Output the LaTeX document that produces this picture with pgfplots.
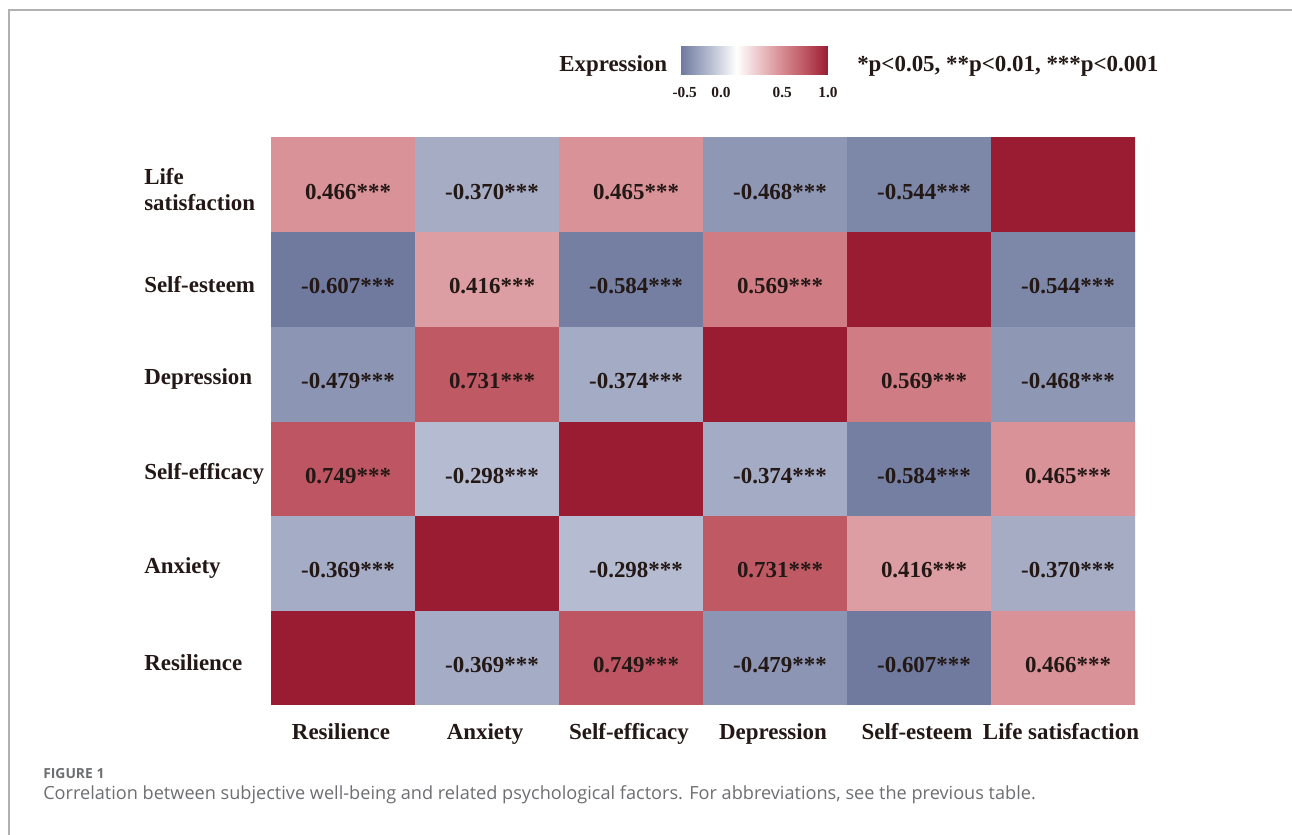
\documentclass[border=0pt]{standalone}
\usepackage{fontspec}
\setmainfont{Liberation Serif}
\newfontfamily\capfont{Open Sans}
\usepackage{pgfplots}
\usepackage{pgfplotstable}
\pgfplotsset{compat=1.18}
\definecolor{txt}{HTML}{231815}
\definecolor{capgray}{HTML}{6D6E71}
\definecolor{framegray}{HTML}{B0B0B0}

\pgfplotstableread{
x y v lab
0 0 1.000 {}
1 0 -0.369 -0.369***
2 0 0.749 0.749***
3 0 -0.479 -0.479***
4 0 -0.607 -0.607***
5 0 0.466 0.466***
0 1 -0.369 -0.369***
1 1 1.000 {}
2 1 -0.298 -0.298***
3 1 0.731 0.731***
4 1 0.416 0.416***
5 1 -0.370 -0.370***
0 2 0.749 0.749***
1 2 -0.298 -0.298***
2 2 1.000 {}
3 2 -0.374 -0.374***
4 2 -0.584 -0.584***
5 2 0.465 0.465***
0 3 -0.479 -0.479***
1 3 0.731 0.731***
2 3 -0.374 -0.374***
3 3 1.000 {}
4 3 0.569 0.569***
5 3 -0.468 -0.468***
0 4 -0.607 -0.607***
1 4 0.416 0.416***
2 4 -0.584 -0.584***
3 4 0.569 0.569***
4 4 1.000 {}
5 4 -0.544 -0.544***
0 5 0.466 0.466***
1 5 -0.370 -0.370***
2 5 0.465 0.465***
3 5 -0.468 -0.468***
4 5 -0.544 -0.544***
5 5 1.000 {}
}\corrtable

\begin{document}
\begin{tikzpicture}[x=0.75pt,y=0.75pt]
\draw[framegray, line width=1.1pt] (9,0) -- (9,825) -- (1292,825);

\begin{axis}[
  at={(203.25pt,97.5pt)}, anchor=south west,
  scale only axis, width=648pt, height=426pt,
  xmin=-0.5, xmax=5.5, ymin=-0.5, ymax=5.5,
  axis line style={draw=none},
  tick style={draw=none},
  xtick={0,...,5}, ytick={0,...,5},
  xticklabels={Resilience,Anxiety,Self-efficacy,Depression,Self-esteem,Life satisfaction},
  yticklabels={Resilience,Anxiety,Self-efficacy,Depression,Self-esteem,{Life\\satisfaction}},
  ticklabel style={font=\fontsize{17.2}{19.5}\selectfont\bfseries, text=txt, inner sep=0pt},
  xticklabel style={anchor=base, yshift=-26.25pt, xshift=-1.5pt},
  yticklabel style={anchor=west, xshift=-95.25pt, yshift=-4pt, align=left},
  colormap={corr}{rgb255(0pt)=(111,122,158) rgb255(309pt)=(181,187,208) rgb255(607pt)=(255,255,255) rgb255(1073pt)=(217,146,152) rgb255(1356pt)=(189,86,98) rgb255(1607pt)=(154,28,50)},
  point meta min=-0.607, point meta max=1,
  colorbar horizontal,
  colorbar/width=21pt,
  colorbar style={
    at={(0.4745,1.1585)}, anchor=north west,
    scale only axis, width=110.25pt, height=21pt,
    axis line style={draw=none},
    xtick={-0.566,-0.17,0.5,1}, xticklabels={-0.5,0.0,0.5,1.0},
    extra x ticks={-0.5,0.5}, extra x tick labels={},
    extra x tick style={tick style={white, line width=0.8pt}, major tick length=3pt},
    xticklabel style={font=\fontsize{11.5}{12}\selectfont\bfseries, text=txt, anchor=base, yshift=-17.25pt, inner sep=0pt},
    tick style={draw=none},
  },
]
\addplot[matrix plot*, mesh/cols=6, point meta=explicit] table[x=x, y=y, meta=v] \corrtable;
\addplot[draw=none, mark=none, nodes near coords, point meta=explicit symbolic,
  every node near coord/.style={anchor=center, font=\fontsize{17.2}{17}\selectfont\bfseries, text=txt, xshift=3.75pt, yshift=-5.5pt}]
  table[x=x, y=y, meta=lab] \corrtable;
\end{axis}

\node[anchor=base west, inner sep=0pt, text=txt, font=\fontsize{17.2}{17}\selectfont\bfseries] at (559,763) {Expression};
\node[anchor=base west, inner sep=0pt, text=txt, font=\fontsize{17.2}{17}\selectfont\bfseries] at (857,763) {*p<0.05, **p<0.01, ***p<0.001};

\node[anchor=base west, inner sep=0pt, text=capgray, font=\capfont\fontsize{10.4}{12}\selectfont\bfseries] at (43,56) {FIGURE 1};
\node[anchor=base west, inner sep=0pt, text=capgray, font=\capfont\fontsize{13.6}{15}\selectfont] at (43,35) {Correlation between subjective well-being and related psychological factors. For abbreviations, see the previous table.};

\pgfresetboundingbox
\path[use as bounding box] (0,0) rectangle (1292,835);
\end{tikzpicture}
\end{document}
